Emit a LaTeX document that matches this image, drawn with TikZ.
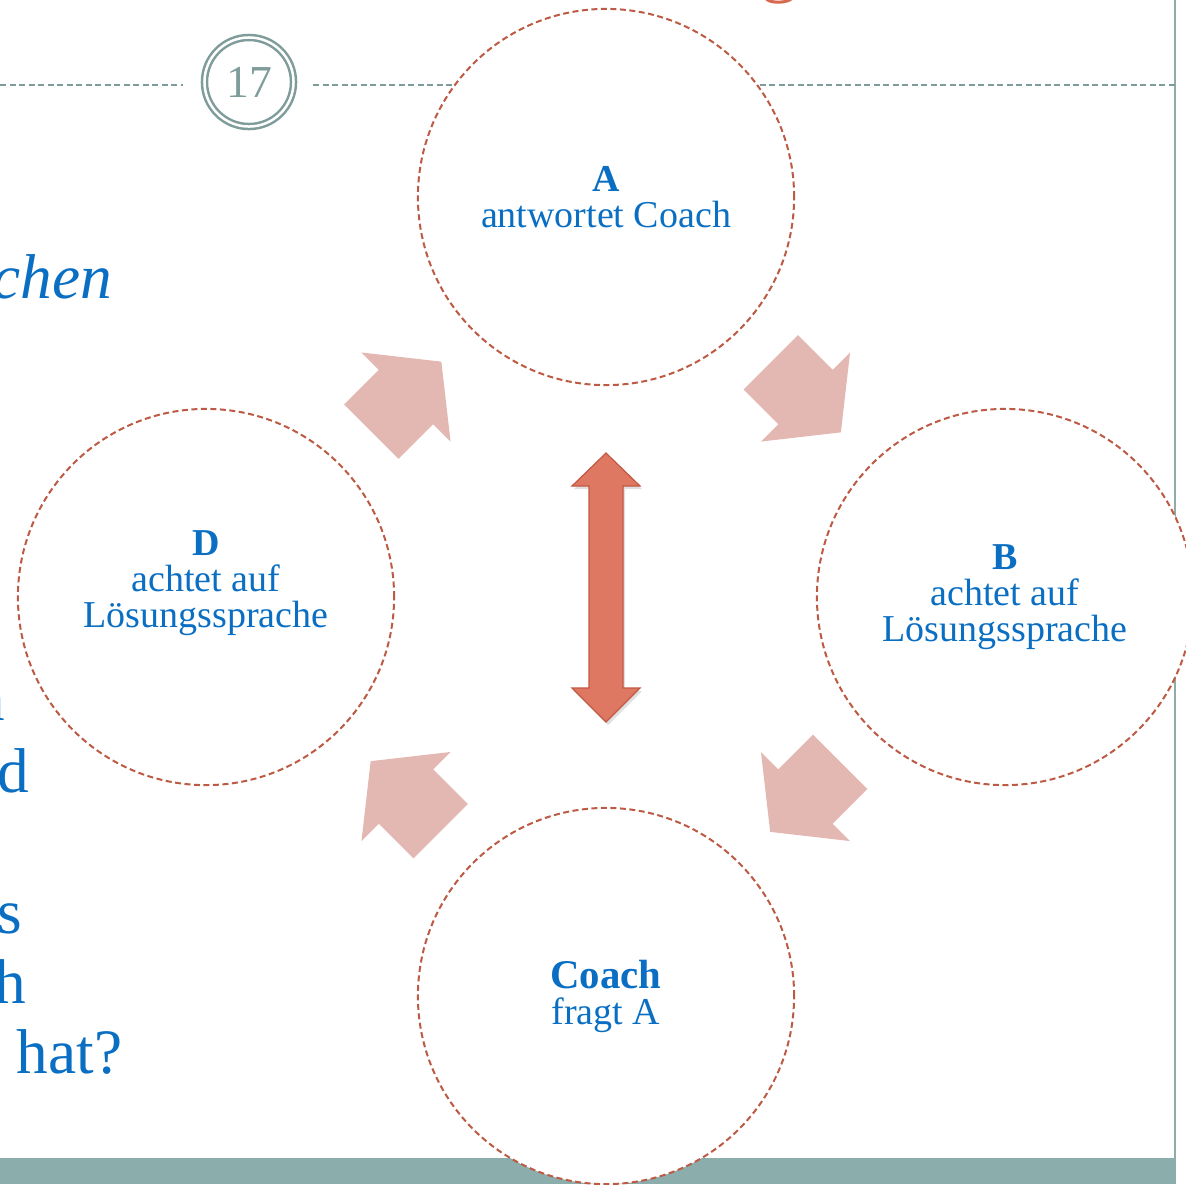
\documentclass[tikz,border=0pt]{standalone}
\usepackage{fontspec}
\setmainfont{Liberation Serif}
\usetikzlibrary{calc}
\usetikzlibrary{positioning}
\usetikzlibrary{shadows}

\definecolor{ringred}{HTML}{BC5A43}
\definecolor{textblue}{HTML}{0A6FC2}
\definecolor{flowpink}{HTML}{E4B8B2}
\definecolor{arrowfill}{HTML}{DF7862}
\definecolor{arrowedge}{HTML}{C25842}
\definecolor{slate}{HTML}{7D9C9A}
\definecolor{barteal}{HTML}{8BADAC}
\definecolor{titlered}{HTML}{D9694E}

\begin{document}
\begin{tikzpicture}[x=0.01cm, y=0.01cm]
        % Define styles for shapes
        \tikzstyle{stage} = [circle, draw=ringred, fill=white, dash pattern=on 0.06cm off 0.035cm, line width=0.02cm, minimum size=3.76cm, inner sep=0pt, align=center, text=textblue, font=\fontsize{10.8}{10.2}\selectfont]
        \tikzstyle{margintext} = [inner sep=0pt, text=textblue, font=\fontsize{18}{20}\selectfont]
        \tikzset{flowarrow/.pic={\fill[flowpink] (-49,-38.5) -- (0,-38.5) -- (0,-63) -- (50,0) -- (0,63) -- (0,38.5) -- (-49,38.5) -- cycle;}}
        \path[use as bounding box, clip] (0,0) rectangle (1186,-1184);

        % Slide frame
        \fill[barteal] (0,-1158) rectangle (1176,-1184);
        \draw[slate!85, line width=0.025cm] (1175,0) -- (1175,-1158);
        \node[circle, draw=slate, double, line width=0.025cm, double distance=0.025cm, minimum size=0.89cm, inner sep=0pt, text=slate, font=\fontsize{13}{13}\selectfont] (pagenum) at (249,-82) {17};
        \draw[slate, dash pattern=on 0.06cm off 0.035cm, line width=0.015cm] (0,-85) -- (183,-85);
        \draw[slate, dash pattern=on 0.06cm off 0.035cm, line width=0.015cm] (313,-85) -- (1176,-85);
        \node[inner sep=0pt, anchor=base, text=titlered, font=\fontsize{22}{22}\selectfont] (title) at (780,13) {g};

        % Text cut off at the left edge
        \node[margintext, anchor=base east, font=\fontsize{18}{20}\selectfont\itshape] (frag1) at (113,-298) {chen};
        \node[margintext, anchor=base east] (frag2) at (6,-720) {n};
        \node[margintext, anchor=base east] (frag3) at (30,-792) {d};
        \node[margintext, anchor=base east] (frag4) at (23,-933) {s};
        \node[margintext, anchor=base east] (frag5) at (27,-1003) {h};
        \node[margintext, anchor=base west] (frag6) at (16,-1073) {hat?};

        % Draw circles
        \node[stage] (circA) at (606,-197) {\textbf{A}\\antwortet Coach};
        \node[stage] (circB) at (1005,-597) {\textbf{B}\\achtet auf\\Lösungssprache};
        \node[stage] (circC) at (606,-996) {\textbf{\fontsize{11.6}{10.2}\selectfont Coach}\\fragt A};
        \node[stage] (circD) at (206,-597) {\textbf{D}\\achtet auf\\Lösungssprache\\\mbox{}};

        % Draw arrows
        \pic[rotate=45] at ($(circD)!0.5!(circA)$) {flowarrow};
        \pic[rotate=-45] at ($(circA)!0.5!(circB)$) {flowarrow};
        \pic[rotate=-135] at ($(circB)!0.5!(circC)$) {flowarrow};
        \pic[rotate=135] at ($(circC)!0.5!(circD)$) {flowarrow};
        % double arrow in the middle
        \filldraw[fill=arrowfill, draw=arrowedge, line width=0.012cm, drop shadow={opacity=0.25, shadow xshift=0.02cm, shadow yshift=-0.03cm}]
            (606,-453) -- (640,-486) -- (623,-486) -- (623,-688) -- (640,-688) -- (606,-722)
            -- (572,-688) -- (589,-688) -- (589,-486) -- (572,-486) -- cycle;
\end{tikzpicture}
\end{document}
